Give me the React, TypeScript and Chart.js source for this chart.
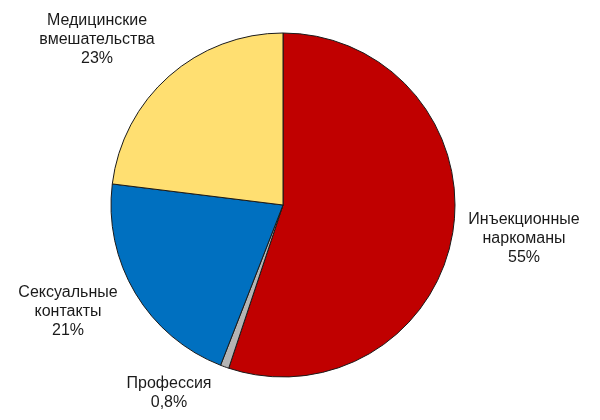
import { useEffect, useRef } from 'react';
import Chart from 'chart.js/auto';

const categories = [
  ['Инъекционные', 'наркоманы'],
  ['Профессия'],
  ['Сексуальные', 'контакты'],
  ['Медицинские', 'вмешательства'],
];
const shares = [55, 0.8, 21, 23];
const shareLabels = ['55%', '0,8%', '21%', '23%'];
const colors = ['#C00000', '#B4B4B4', '#0070C0', '#FFDF71'];

// label block centres (first line), outside the pie
const labelPos = [
  { x: 524, y: 220 },
  { x: 169, y: 384 },
  { x: 68, y: 293 },
  { x: 97, y: 21 },
];

const outsideLabels = {
  id: 'outsideLabels',
  afterDraw(chart: Chart) {
    const ctx = chart.ctx;
    ctx.save();
    ctx.font = '16px "Liberation Sans", Arial, sans-serif';
    ctx.fillStyle = '#1a1a1a';
    ctx.textAlign = 'center';
    ctx.textBaseline = 'middle';
    categories.forEach((lines, i) => {
      const all = [...lines, shareLabels[i]];
      all.forEach((t, j) => {
        ctx.fillText(t, labelPos[i].x, labelPos[i].y + j * 19);
      });
    });
    ctx.restore();
  },
};

export default function App() {
  const chartRef = useRef<HTMLCanvasElement>(null);
  const chartInstance = useRef<Chart | null>(null);

  useEffect(() => {
    if (!chartRef.current) return;
    if (chartInstance.current) chartInstance.current.destroy();

    chartInstance.current = new Chart(chartRef.current, {
      type: 'pie',
      data: {
        labels: categories.map((c) => c.join(' ')),
        datasets: [
          {
            data: shares,
            backgroundColor: colors,
            borderColor: '#1a1a1a',
            borderWidth: 1,
            radius: 172,
          },
        ],
      },
      options: {
        responsive: false,
        animation: false,
        layout: { padding: { left: 0, right: 34, top: 0, bottom: 10 } },
        plugins: {
          legend: { display: false },
          tooltip: { enabled: false },
        },
      },
      plugins: [outsideLabels],
    });

    return () => {
      if (chartInstance.current) {
        chartInstance.current.destroy();
        chartInstance.current = null;
      }
    };
  }, []);

  return (
    <div style={{ position: 'fixed', left: 0, top: 0, width: 600, height: 420, background: '#fff' }}>
      <canvas ref={chartRef} width={600} height={420} />
    </div>
  );
}
